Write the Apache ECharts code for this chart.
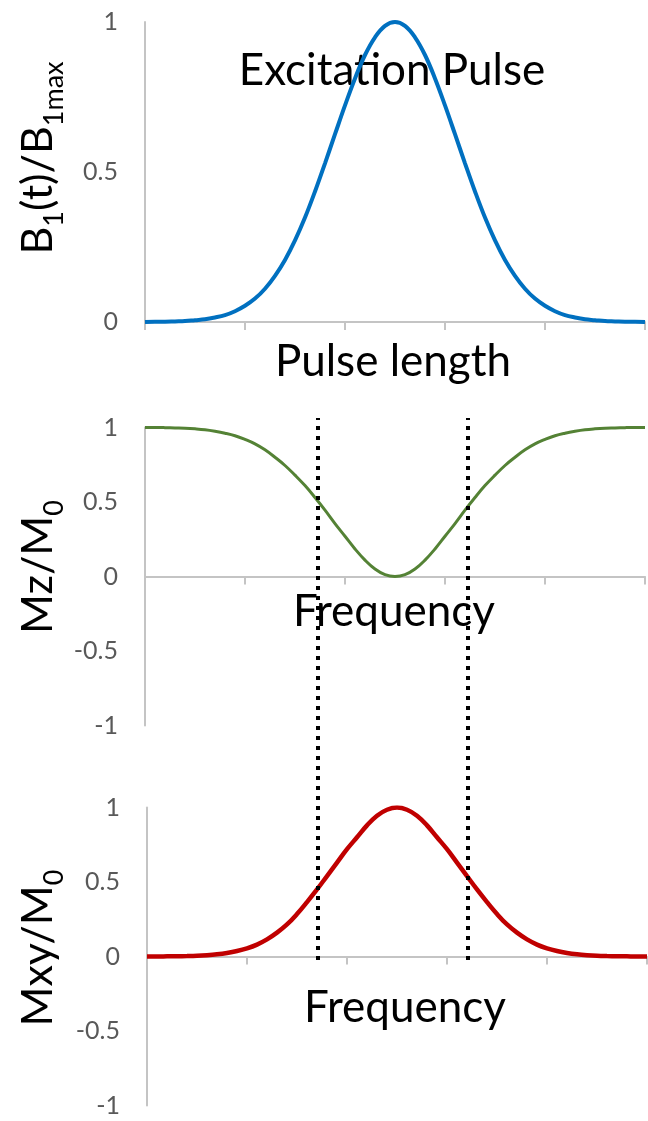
<!DOCTYPE html>
<html>
<head>
<meta charset="utf-8">
<script src="https://cdn.jsdelivr.net/npm/echarts@6/dist/echarts.min.js"></script>
<style>
  html, body { margin: 0; padding: 0; background: #fff; }
  #chart { width: 648px; height: 1121px; }
</style>
</head>
<body>
<div id="chart"></div>
<script>
// x positions (pulse length / frequency, in tick units)
const xs = [0, 0.1, 0.2, 0.3, 0.4, 0.5, 0.6, 0.7, 0.8, 0.9,
  1, 1.1, 1.2, 1.3, 1.4, 1.5, 1.6, 1.7, 1.8, 1.9,
  2, 2.1, 2.2, 2.3, 2.4, 2.5, 2.6, 2.7, 2.8, 2.9,
  3, 3.1, 3.2, 3.3, 3.4, 3.5, 3.6, 3.7, 3.8, 3.9,
  4, 4.1, 4.2, 4.3, 4.4, 4.5, 4.6, 4.7, 4.8, 4.9, 5]

// B1(t)/B1max
const pulse = [0, 0.001, 0.001, 0.002, 0.003, 0.006, 0.009, 0.015, 0.023, 0.036,
  0.054, 0.078, 0.111, 0.154, 0.207, 0.272, 0.348, 0.435, 0.529, 0.626,
  0.722, 0.812, 0.89, 0.949, 0.987, 1, 0.987, 0.949, 0.89, 0.812,
  0.722, 0.626, 0.529, 0.435, 0.348, 0.272, 0.207, 0.154, 0.111, 0.078,
  0.054, 0.036, 0.023, 0.015, 0.009, 0.006, 0.003, 0.002, 0.001, 0.001, 0]

// Mz/M0
const mz = [1, 1, 0.999, 0.997, 0.995, 0.991, 0.985, 0.975, 0.962, 0.945,
  0.92, 0.89, 0.85, 0.80, 0.745, 0.68, 0.61, 0.53, 0.445, 0.355,
  0.27, 0.185, 0.11, 0.05, 0.012, 0, 0.012, 0.05, 0.11, 0.185,
  0.27, 0.355, 0.445, 0.53, 0.61, 0.68, 0.745, 0.80, 0.85, 0.89,
  0.92, 0.945, 0.962, 0.975, 0.985, 0.991, 0.995, 0.997, 0.999, 1, 1]

// Mxy/M0
const mxy = [0, 0, 0.001, 0.002, 0.003, 0.005, 0.009, 0.015, 0.024, 0.037,
  0.055, 0.08, 0.115, 0.16, 0.215, 0.285, 0.365, 0.45, 0.54, 0.63,
  0.72, 0.80, 0.88, 0.945, 0.985, 1, 0.985, 0.945, 0.88, 0.80,
  0.72, 0.63, 0.54, 0.45, 0.365, 0.285, 0.215, 0.16, 0.115, 0.08,
  0.055, 0.037, 0.024, 0.015, 0.009, 0.005, 0.003, 0.002, 0.001, 0, 0]

// bandwidth markers (dotted lines)
const bandEdges = [1.73, 3.23]

const FONT = 'Lato'
const AXIS_GRAY = '#c4c4c4'
const LABEL_GRAY = '#595959'
const MAIN_SIZE = 43
const SUB_SIZE = 27

const chart = echarts.init(document.getElementById('chart'))
const measureCtx = document.createElement('canvas').getContext('2d')

function textWidth(text, size) {
  measureCtx.font = size + 'px ' + FONT
  return measureCtx.measureText(text).width
}

function xAxisFor(gridIndex) {
  return {
    type: 'value', gridIndex, min: 0, max: 5, interval: 1,
    axisLine: { show: true, lineStyle: { color: AXIS_GRAY, width: 2 } },
    axisTick: { show: true, length: 8, lineStyle: { color: AXIS_GRAY, width: 2 } },
    axisLabel: { show: false },
    splitLine: { show: false }
  }
}

function yAxisFor(gridIndex, min) {
  return {
    type: 'value', gridIndex, min, max: 1, interval: 0.5,
    axisLine: { show: true, lineStyle: { color: AXIS_GRAY, width: 2 } },
    axisTick: { show: false },
    axisLabel: { color: LABEL_GRAY, fontSize: 25, fontFamily: FONT, margin: 27 },
    splitLine: { show: false }
  }
}

function pairs(ys) {
  return xs.map((x, i) => [x, ys[i]])
}

function title(text, x, y) {
  return {
    type: 'text', x, y,
    style: { text, fill: '#000', font: '44px ' + FONT, textAlign: 'center', textVerticalAlign: 'middle' }
  }
}

// rotated axis title made of [text, isSubscript] pieces
function yTitle(parts, x, y) {
  const widths = parts.map(([t, sub]) => textWidth(t, sub ? SUB_SIZE : MAIN_SIZE))
  const total = widths.reduce((a, b) => a + b, 0)
  let pos = -total / 2
  const children = parts.map(([t, sub], i) => {
    const el = {
      type: 'text', x: pos, y: sub ? 16 : 0,
      style: {
        text: t, fill: '#000', font: (sub ? SUB_SIZE : MAIN_SIZE) + 'px ' + FONT,
        textAlign: 'left', textVerticalAlign: 'middle'
      }
    }
    pos += widths[i]
    return el
  })
  return { type: 'group', x, y, rotation: Math.PI / 2, children }
}

function curve(axis, ys, color, width) {
  return {
    type: 'line', xAxisIndex: axis, yAxisIndex: axis, data: pairs(ys),
    smooth: 0.4, showSymbol: false,
    lineStyle: { color, width }
  }
}

const option = {
  animation: false,
  grid: [
    { left: 145, top: 22, width: 500, height: 300 },
    { left: 145, top: 427.5, width: 500, height: 298 },
    { left: 147, top: 807.5, width: 500, height: 298 },
    { left: 145, top: 418, width: 500, height: 542 }
  ],
  xAxis: [
    xAxisFor(0), xAxisFor(1), xAxisFor(2),
    { type: 'value', gridIndex: 3, min: 0, max: 5, show: false }
  ],
  yAxis: [
    yAxisFor(0, 0), yAxisFor(1, -1), yAxisFor(2, -1),
    { type: 'value', gridIndex: 3, min: 0, max: 1, show: false }
  ],
  series: [
    curve(0, pulse, '#0070c0', 4),
    curve(1, mz, '#548235', 3),
    curve(2, mxy, '#c00000', 4.5),
    {
      type: 'line', xAxisIndex: 3, yAxisIndex: 3, data: [],
      markLine: {
        silent: true, symbol: 'none', label: { show: false },
        lineStyle: { color: '#000', width: 4, type: [4, 6], cap: 'butt' },
        data: bandEdges.map(v => ({ xAxis: v }))
      }
    }
  ],
  graphic: [
    title('Excitation Pulse', 392, 71),
    title('Pulse length', 393, 362),
    title('Frequency', 394, 612),
    title('Frequency', 405, 1008),
    yTitle([['B', 0], ['1', 1], ['(t)/B', 0], ['1max', 1]], 38, 158),
    yTitle([['Mz/M', 0], ['0', 1]], 38, 567),
    yTitle([['Mxy/M', 0], ['0', 1]], 38, 948)
  ]
}

chart.setOption(option)
</script>
</body>
</html>
